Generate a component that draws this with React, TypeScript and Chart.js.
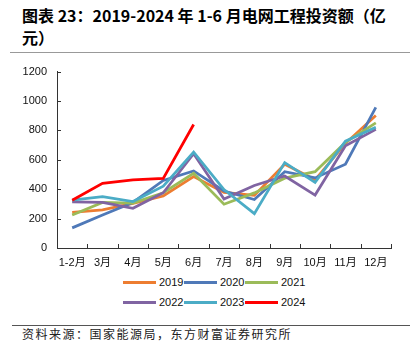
import React, { useEffect, useRef } from "react";
import { Chart, registerables } from "chart.js";

Chart.register(...registerables);

const categories = ["1-2月", "3月", "4月", "5月", "6月", "7月", "8月", "9月", "10月", "11月", "12月"];
const s2019 = [243, 259, 303, 354, 486, 378, 358, 570, 464, 712, 902];
const s2020 = [137, 225, 310, 460, 524, 388, 330, 519, 477, 570, 957];
const s2021 = [225, 310, 305, 376, 508, 298, 375, 475, 519, 718, 851];
const s2022 = [314, 310, 270, 376, 641, 333, 425, 490, 360, 696, 807];
const s2023 = [325, 349, 316, 420, 652, 398, 234, 581, 447, 727, 822];
const s2024 = [325, 440, 464, 473, 840];
const seriesNames = ["2019", "2020", "2021", "2022", "2023", "2024"];
const seriesColors = ["#ED7D31", "#4F79B8", "#9BBB59", "#8064A2", "#4BACC6", "#FF0000"];
const yTicks = { min: 0, max: 1200, step: 200 };

const FONT = '"Liberation Sans", Arial, "Noto Sans CJK SC", sans-serif';

const inwardTicks = {
  id: "inwardTicks",
  afterDraw(chart: any) {
    const { ctx, chartArea, scales } = chart;
    const y = scales.y;
    ctx.save();
    ctx.strokeStyle = "#333";
    ctx.lineWidth = 1;
    ctx.beginPath();
    y.ticks.forEach((_t: any, i: number) => {
      const py = Math.round(y.getPixelForTick(i)) + 0.5;
      ctx.moveTo(chartArea.left, py);
      ctx.lineTo(chartArea.left + 4, py);
    });
    const n = categories.length;
    const w = (chartArea.right - chartArea.left) / n;
    for (let i = 0; i <= n; i++) {
      const px = Math.round(chartArea.left + i * w) + 0.5;
      ctx.moveTo(px, chartArea.bottom);
      ctx.lineTo(px, chartArea.bottom - 4);
    }
    ctx.stroke();
    ctx.restore();
  },
};

export default function App() {
  const ref = useRef<HTMLCanvasElement | null>(null);
  useEffect(() => {
    document.body.style.margin = "0";
    const all = [s2019, s2020, s2021, s2022, s2023, s2024];
    const chart = new Chart(ref.current as HTMLCanvasElement, {
      type: "line",
      data: {
        labels: categories,
        datasets: all.map((d, i) => ({
          label: seriesNames[i],
          data: d,
          borderColor: seriesColors[i],
          backgroundColor: seriesColors[i],
          borderWidth: 2.75,
          pointRadius: 0,
          tension: 0,
          fill: false,
          order: 6 - i,
        })),
      },
      options: {
        animation: false,
        responsive: false,
        maintainAspectRatio: false,
        layout: { padding: { top: 12, right: 24, left: 0, bottom: 0 } },
        plugins: { legend: { display: false }, tooltip: { enabled: false } },
        scales: {
          x: {
            offset: true,
            grid: { display: true, drawOnChartArea: false, drawTicks: false, offset: true },
            border: { display: true, color: "#333", width: 1 },
            ticks: { color: "#111", font: { size: 11, family: FONT }, padding: 8, maxRotation: 0, autoSkip: false },
            afterFit: (s: any) => { s.height = 27; },
          },
          y: {
            min: yTicks.min,
            max: yTicks.max,
            grid: { display: true, drawOnChartArea: false, drawTicks: false },
            border: { display: true, color: "#333", width: 1 },
            ticks: {
              stepSize: yTicks.step,
              color: "#111",
              font: { size: 11, family: FONT },
              padding: 10,
              callback: (v: any) => String(v),
            },
            afterFit: (s: any) => { s.width = 57; },
          },
        },
      },
      plugins: [inwardTicks],
    });
    return () => chart.destroy();
  }, []);

  const legendRow = (idx: number[], top: number) => (
    <div style={{ position: "absolute", left: 123, top, display: "flex", alignItems: "center", height: 14 }}>
      {idx.map((i) => (
        <div key={i} style={{ display: "flex", alignItems: "center", width: 61 }}>
          <div style={{ width: 33, height: 3, background: seriesColors[i] }} />
          <span style={{ marginLeft: 3, fontSize: 11, fontFamily: FONT, color: "#111", lineHeight: "14px" }}>{seriesNames[i]}</span>
        </div>
      ))}
    </div>
  );

  return (
    <div style={{ position: "absolute", left: 0, top: 0, width: 415, height: 359, background: "#fff", overflow: "hidden" }}>
      <div style={{ position: "absolute", left: 22, top: 4, width: 395, fontFamily: '"Noto Sans CJK SC", sans-serif', fontWeight: 700, fontSize: 16, lineHeight: "22px", color: "#000", whiteSpace: "nowrap" }}>
        图表 23：2019-2024 年 1-6 月电网工程投资额（亿<br />元）
      </div>
      <div style={{ position: "absolute", left: 10, top: 52, width: 400, height: 1, background: "#999" }} />
      <canvas ref={ref} width={415} height={220} style={{ position: "absolute", left: 0, top: 55, width: 415, height: 220 }} />
      {legendRow([0, 1, 2], 275)}
      {legendRow([3, 4, 5], 295)}
      <div style={{ position: "absolute", left: 12, top: 325, width: 398, height: 1, background: "#555" }} />
      <div style={{ position: "absolute", left: 22, top: 326, fontFamily: '"Noto Sans CJK SC", sans-serif', fontSize: 12, letterSpacing: "1.5px", lineHeight: "16px", color: "#222", whiteSpace: "nowrap" }}>
        资料来源：国家能源局，东方财富证券研究所
      </div>
    </div>
  );
}
